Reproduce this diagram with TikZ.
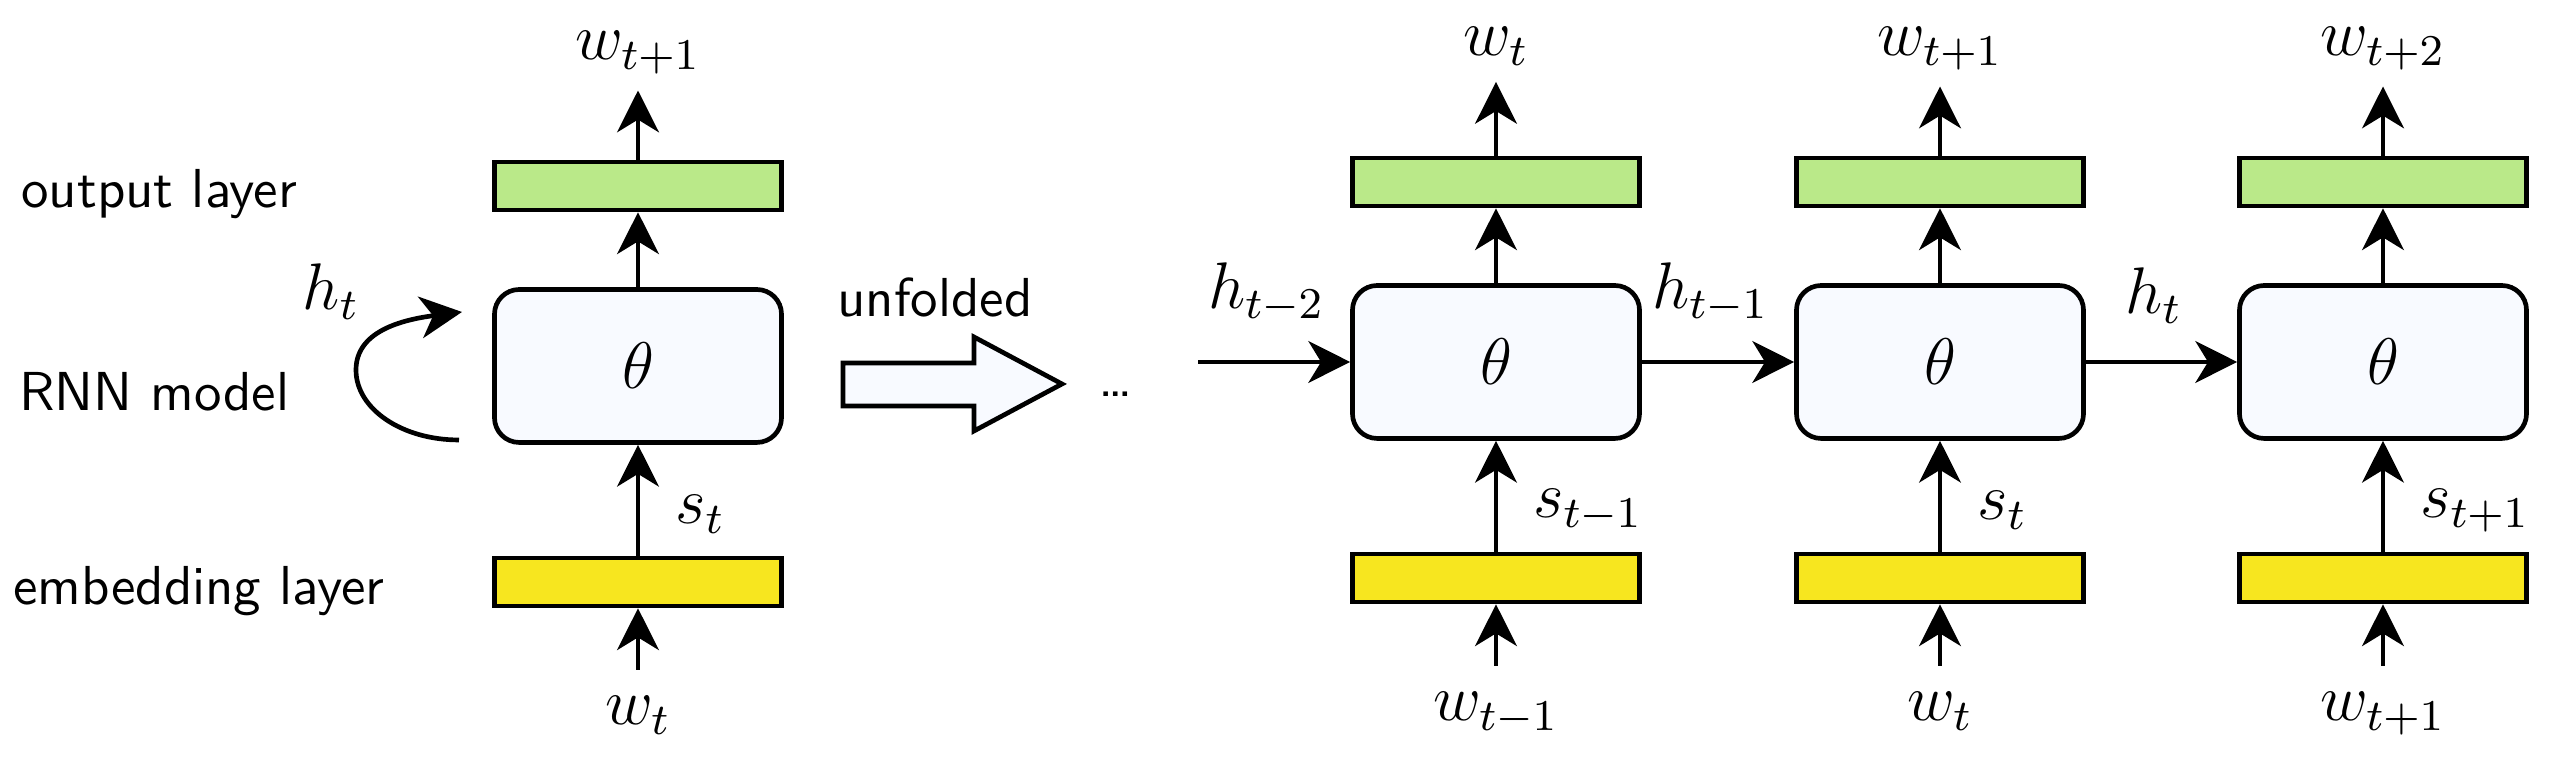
\documentclass[tikz,border=0pt]{standalone}
\usepackage{amsmath}
\usepackage{tikz}
\usepackage{xcolor}
\usetikzlibrary{positioning,arrows.meta}

\definecolor{outgreen}{RGB}{186,233,137}
\definecolor{embyellow}{RGB}{247,230,31}
\definecolor{rnnfill}{RGB}{248,250,255}

\begin{document}
\begin{tikzpicture}[x=0.64cm, y=0.64cm, line width=0.85pt,
  layerbox/.style={draw, inner sep=0pt, minimum width=1.837cm, minimum height=0.307cm},
  outbox/.style={layerbox, fill=outgreen},
  embbox/.style={layerbox, fill=embyellow},
  rnnbox/.style={draw, rounded corners=4.5pt, fill=rnnfill, inner sep=0pt,
    minimum width=1.837cm, minimum height=0.979cm, font=\large},
  outword/.style={font=\large, inner sep=2.5pt, anchor=base},
  inword/.style={font=\large, inner sep=4.5pt, anchor=base},
  slabel/.style={font=\large, right=3pt, pos=0.37},
  hlabel/.style={font=\large, above=3.3pt, pos=0.45},
  sidetext/.style={font=\sffamily, inner sep=0pt, anchor=base west},
  flow/.style={-{Stealth[length=7.6pt, width=7.6pt, inset=2.3pt]}}]

\useasboundingbox (0,0) rectangle (25.6,7.72);

% left: folded model
\node[sidetext] (outtxt) at (0.19,5.64) {output layer};
\node[sidetext] (rnntxt) at (0.17,3.61) {RNN model};
\node[sidetext] (embtxt) at (0.11,1.67) {embedding layer};

\node[outbox] (out0) at (6.38,5.86) {};
\node[rnnbox] (rnn0) at (6.38,4.06) {$\theta$};
\node[embbox] (emb0) at (6.38,1.90) {};
\node[outword] (wout0) at (6.38,7.12) {$w_{t+1}$};
\node[inword] (win0) at (6.38,0.47) {$w_t$};

\draw[flow] (win0) -- (emb0);
\draw[flow] (emb0) -- node[slabel] {$s_t$} (rnn0);
\draw[flow] (rnn0) -- (out0);
\draw[flow] (out0) -- (wout0);

\coordinate (loopin) at (4.59,3.32);
\coordinate (loopmid) at (3.56,4.02);
\coordinate (loopout) at (4.62,4.60);
\draw[flow] (loopin) .. controls (4.02,3.32) and (3.56,3.63) .. (loopmid)
  .. controls (3.56,4.40) and (4.0,4.52) .. (loopout);
\node[font=\large, anchor=base] (hloop) at (3.31,4.62) {$h_t$};

% unfolding arrow
\node[sidetext] (unftxt) at (8.35,4.55) {unfolded};
\draw[fill=rnnfill] (8.43,3.66) -- (9.74,3.66) -- (9.74,3.41) -- (10.62,3.88)
  -- (9.74,4.35) -- (9.74,4.09) -- (8.43,4.09) -- cycle;
\node[sidetext] (dots) at (10.96,3.75) {\ldots};

% right: unfolded model
\node[outbox] (out1) at (14.96,5.90) {};
\node[outbox] (out2) at (19.40,5.90) {};
\node[outbox] (out3) at (23.83,5.90) {};

\node[rnnbox] (rnn1) at (14.96,4.10) {$\theta$};
\node[rnnbox] (rnn2) at (19.40,4.10) {$\theta$};
\node[rnnbox] (rnn3) at (23.83,4.10) {$\theta$};

\node[embbox] (emb1) at (14.96,1.94) {};
\node[embbox] (emb2) at (19.40,1.94) {};
\node[embbox] (emb3) at (23.83,1.94) {};

\node[outword] (wout1) at (14.96,7.16) {$w_t$};
\node[outword] (wout2) at (19.40,7.16) {$w_{t+1}$};
\node[outword] (wout3) at (23.83,7.16) {$w_{t+2}$};

\node[inword] (win1) at (14.96,0.51) {$w_{t-1}$};
\node[inword] (win2) at (19.40,0.51) {$w_t$};
\node[inword] (win3) at (23.83,0.51) {$w_{t+1}$};

\draw[flow] (win1) -- (emb1);
\draw[flow] (win2) -- (emb2);
\draw[flow] (win3) -- (emb3);

\draw[flow] (emb1) -- node[slabel] {$s_{t-1}$} (rnn1);
\draw[flow] (emb2) -- node[slabel] {$s_t$} (rnn2);
\draw[flow] (emb3) -- node[slabel] {$s_{t+1}$} (rnn3);

\draw[flow] (rnn1) -- (out1);
\draw[flow] (rnn2) -- (out2);
\draw[flow] (rnn3) -- (out3);

\draw[flow] (out1) -- (wout1);
\draw[flow] (out2) -- (wout2);
\draw[flow] (out3) -- (wout3);

\coordinate (hin) at (11.98,4.10);
\draw[flow] (hin) -- node[hlabel] {$h_{t-2}$} (rnn1);
\draw[flow] (rnn1) -- node[hlabel] {$h_{t-1}$} (rnn2);
\draw[flow] (rnn2) -- node[hlabel] {$h_t$} (rnn3);
\end{tikzpicture}
\end{document}
